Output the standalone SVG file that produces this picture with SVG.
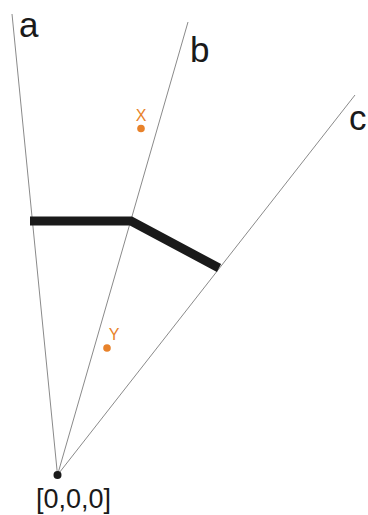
<svg xmlns="http://www.w3.org/2000/svg" width="368" height="515" viewBox="0 0 368 515">
<style>
.ax{stroke:#8a8a8a;stroke-width:1;fill:none}
.lbl{font-family:"Liberation Sans",Arial,sans-serif;fill:#1a1a1a}
.pt{fill:#e8822a}
.ptl{font-family:"Liberation Sans",Arial,sans-serif;fill:#e8822a;font-size:16px}
</style>
<rect width="368" height="515" fill="#fff"/>
<g id="connectors">
<line class="ax" x1="57.5" y1="475" x2="12" y2="14"/>
<line class="ax" x1="57.5" y1="475" x2="188" y2="22"/>
<line class="ax" x1="57.5" y1="475" x2="355" y2="95"/>
<polyline points="30,221 131,221 219,268" fill="none" stroke="#1a1a1a" stroke-width="9"/>
</g>
<g id="label-a"><text class="lbl" x="19" y="37" font-size="35">a</text></g>
<g id="label-b"><text class="lbl" x="190" y="62" font-size="35">b</text></g>
<g id="label-c"><text class="lbl" x="349" y="130" font-size="35">c</text></g>
<g id="point-x"><text class="ptl" x="141" y="121" text-anchor="middle">X</text><circle class="pt" cx="141" cy="128.5" r="3.8"/></g>
<g id="point-y"><text class="ptl" x="114" y="340" text-anchor="middle">Y</text><circle class="pt" cx="107" cy="348" r="3.8"/></g>
<g id="origin"><circle cx="57.5" cy="475" r="4" fill="#1a1a1a"/><text class="lbl" x="73.5" y="508" font-size="27" text-anchor="middle">[0,0,0]</text></g>
</svg>
